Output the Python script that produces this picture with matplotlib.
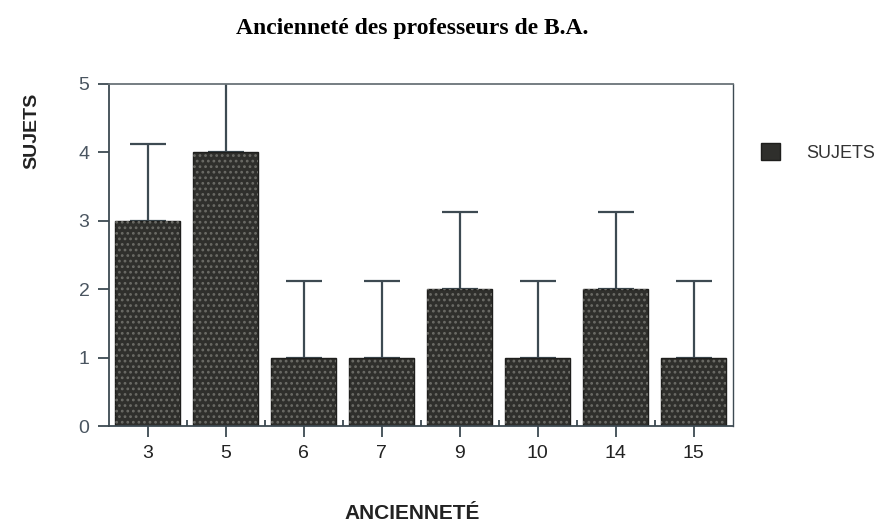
import matplotlib.pyplot as plt

# donnees
annees = ["3", "5", "6", "7", "9", "10", "14", "15"]
sujets = [3, 4, 1, 1, 2, 1, 2, 1]
ecart = [1.12, 1.12, 1.12, 1.12, 1.12, 1.12, 1.12, 1.12]

plt.rcParams['font.family'] = ['Liberation Sans', 'DejaVu Sans']
plt.rcParams['hatch.linewidth'] = 1.2
axe_col = '#3d4a52'

fig = plt.figure(figsize=(8.85, 5.24), dpi=100)
ax = fig.add_axes([0.123, 0.187, 0.705, 0.653])

x = range(len(annees))
ax.bar(x, sujets, width=0.83, color='#2f2f2c', edgecolor='#1e1e1c', linewidth=1,
       label='SUJETS', zorder=2)
# texture tachetee des barres scannees
ax.bar(x, sujets, width=0.83, facecolor='none', edgecolor='#6b6b66', linewidth=0,
       hatch='...', zorder=3)
ax.errorbar(x, sujets, yerr=[[0] * len(sujets), ecart], fmt='none',
            ecolor=axe_col, elinewidth=1.6, capsize=13, capthick=1.6, zorder=1)

ax.set_xlim(-0.5, len(annees) - 0.5)
ax.set_ylim(0, 5)
ax.set_yticks([0, 1, 2, 3, 4, 5])
ax.set_xticks(list(x))
ax.set_xticklabels(annees)
ax.tick_params(axis='both', colors=axe_col, labelsize=14, length=8, width=1.3)
ax.tick_params(axis='x', labelcolor='#222222', pad=6)
ax.tick_params(axis='y', labelcolor='#4a5560', pad=6)
ax.set_xticks([i + 0.5 for i in range(len(annees) - 1)], minor=True)
ax.tick_params(axis='x', which='minor', length=4, width=1.3, direction='in', colors=axe_col)
for s in ax.spines.values():
    s.set_color(axe_col)
    s.set_linewidth(1.3)
ax.spines['top'].set_color('#6a7378')
ax.spines['right'].set_linewidth(1.0)

fig.text(0.466, 0.945, "Ancienneté des professeurs de B.A.", ha='center', va='center',
         fontsize=17, fontweight='bold', family=['Liberation Serif', 'DejaVu Serif'])
fig.text(0.036, 0.75, "SUJETS", rotation=90, ha='center', va='center',
         fontsize=14, fontweight='bold', color='#222222')
fig.text(0.466, 0.02, "ANCIENNETÉ", ha='center', va='center',
         fontsize=15, fontweight='bold', color='#222222')

leg = ax.legend(loc='center left', bbox_to_anchor=(1.046, 0.80), frameon=False,
                fontsize=13, handlelength=1.05, handleheight=1.05, handletextpad=1.4,
                borderaxespad=0, borderpad=0)
for t in leg.get_texts():
    t.set_color('#333333')

fig.savefig('out.png', dpi=100)
